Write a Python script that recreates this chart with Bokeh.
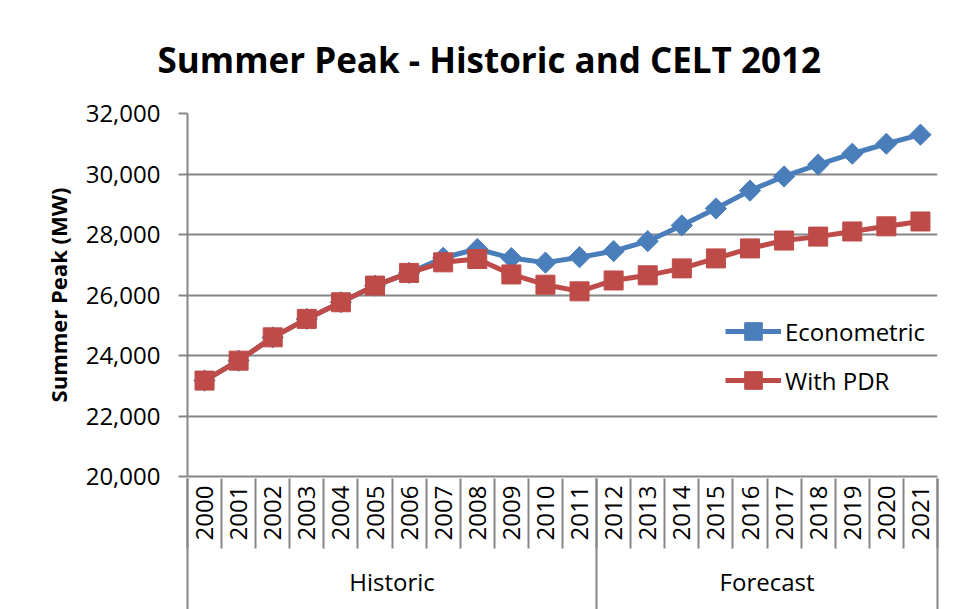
import numpy as np
from bokeh.plotting import figure
from bokeh.models import (FactorRange, Range1d, LinearAxis, CategoricalAxis, CategoricalTicker,
                          FixedTicker, NumeralTickFormatter, Legend, LegendItem)
from bokeh.embed import file_html
from bokeh.resources import INLINE

# ---- data ----
years = [str(y) for y in range(2000, 2022)]
periods = ["Historic"] * 12 + ["Forecast"] * 10
econometric = [23170, 23830, 24600, 25210, 25760, 26310, 26730, 27230, 27520, 27220, 27070,
               27250, 27450, 27780, 28300, 28860, 29450, 29920, 30310, 30670, 31000, 31300]
with_pdr = [23170, 23830, 24600, 25210, 25760, 26310, 26730, 27080, 27190, 26680, 26340,
            26120, 26480, 26650, 26880, 27210, 27540, 27800, 27930, 28100, 28270, 28430]
y_ticks = [20000, 22000, 24000, 26000, 28000, 30000, 32000]
series_names = ["Econometric", "With PDR"]
title_text = "Summer Peak - Historic and CELT 2012"
y_title = "Summer Peak (MW)"

# ---- style ----
FONT = "Open Sans"
GRAY = "#868686"
BLUE = "#4A7EBB"
RED = "#BE4B48"

p = figure(width=958, height=609,
           x_range=FactorRange(*years, range_padding=0),
           y_range=Range1d(y_ticks[0], y_ticks[-1]),
           output_backend="svg", toolbar_location=None,
           x_axis_location=None, y_axis_location="left",
           min_border_left=187, min_border_right=21, min_border_top=113, min_border_bottom=133)
p.outline_line_color = None
p.background_fill_color = "white"
p.border_fill_color = "white"
for g in p.xgrid:
    g.visible = False

p.title.text = title_text
p.title.text_font = FONT
p.title.text_font_size = "35px"
p.title.text_font_style = "bold"
p.title.text_color = "black"
p.title.align = "left"
p.title.offset = -30
p.title.standoff = 62

# y axis
yax = p.yaxis[0]
yax.ticker = FixedTicker(ticks=y_ticks)
yax.formatter = NumeralTickFormatter(format="0,0")
yax.axis_label = y_title
yax.axis_label_text_font = FONT
yax.axis_label_text_font_style = "bold"
yax.axis_label_text_font_size = "22px"
yax.axis_label_text_color = "black"
yax.axis_label_standoff = 10
yax.major_label_text_font = FONT
yax.major_label_text_font_size = "24px"
yax.major_label_text_color = "black"
yax.major_label_standoff = 18
yax.major_tick_out = 9
yax.major_tick_in = 0
yax.minor_tick_out = 0
yax.minor_tick_in = 0
yax.axis_line_color = GRAY
yax.axis_line_width = 2
yax.major_tick_line_color = GRAY
yax.major_tick_line_width = 2

p.ygrid.ticker = FixedTicker(ticks=y_ticks)
p.ygrid.grid_line_color = GRAY
p.ygrid.grid_line_width = 2

n = len(years)

# 1) year labels + x axis line
year_axis = CategoricalAxis(ticker=CategoricalTicker(),
                            major_label_orientation=np.pi / 2,
                            major_label_text_font=FONT,
                            major_label_text_font_size="24px",
                            major_label_text_color="black",
                            major_label_standoff=9,
                            major_tick_out=0, major_tick_in=0,
                            major_tick_line_color=None,
                            axis_line_color=GRAY, axis_line_width=2)
p.add_layout(year_axis, "below")

# 2) separators (category boundaries in the factor range's own coordinates) + period labels
group_names, group_centers, group_bounds = [], [], [0]
i = 0
while i < n:
    j = i
    while j < n and periods[j] == periods[i]:
        j += 1
    group_names.append(periods[i])
    c = (i + j) / 2
    group_centers.append(int(c) if c == int(c) else c)
    group_bounds.append(j)
    i = j
year_bounds = list(range(n + 1))
major = sorted(set(year_bounds) | set(group_centers))
overrides = {t: "" for t in major}
for c, nm in zip(group_centers, group_names):
    overrides[c] = nm

SEP_IN = 65
sep_axis = LinearAxis(ticker=FixedTicker(ticks=major, minor_ticks=group_bounds),
                      major_label_overrides=overrides,
                      major_tick_in=SEP_IN, major_tick_out=5,
                      minor_tick_in=SEP_IN, minor_tick_out=67,
                      major_tick_line_color=GRAY, major_tick_line_width=2,
                      minor_tick_line_color=GRAY, minor_tick_line_width=2,
                      major_label_text_font=FONT, major_label_text_font_size="24px",
                      major_label_text_color="black", major_label_standoff=-46,
                      axis_line_color=None)
p.add_layout(sep_axis, "below")

# series
r1l = p.line(years, econometric, color=BLUE, line_width=5)
r1m = p.scatter(years, econometric, marker="square", angle=np.pi / 4, size=15, color=BLUE)
r2l = p.line(years, with_pdr, color=RED, line_width=5)
r2m = p.scatter(years, with_pdr, marker="square", size=19, color=RED)

legend = Legend(items=[LegendItem(label=series_names[0], renderers=[r1l, r1m]),
                       LegendItem(label=series_names[1], renderers=[r2l, r2m])],
                location=(538, 74), background_fill_alpha=0, border_line_color=None,
                label_text_font=FONT, label_text_font_size="24px", label_text_color="black",
                glyph_width=56, glyph_height=44, spacing=5, padding=0, margin=0,
                label_standoff=4)
p.add_layout(legend)

open("out.html", "w").write(file_html(p, INLINE))
